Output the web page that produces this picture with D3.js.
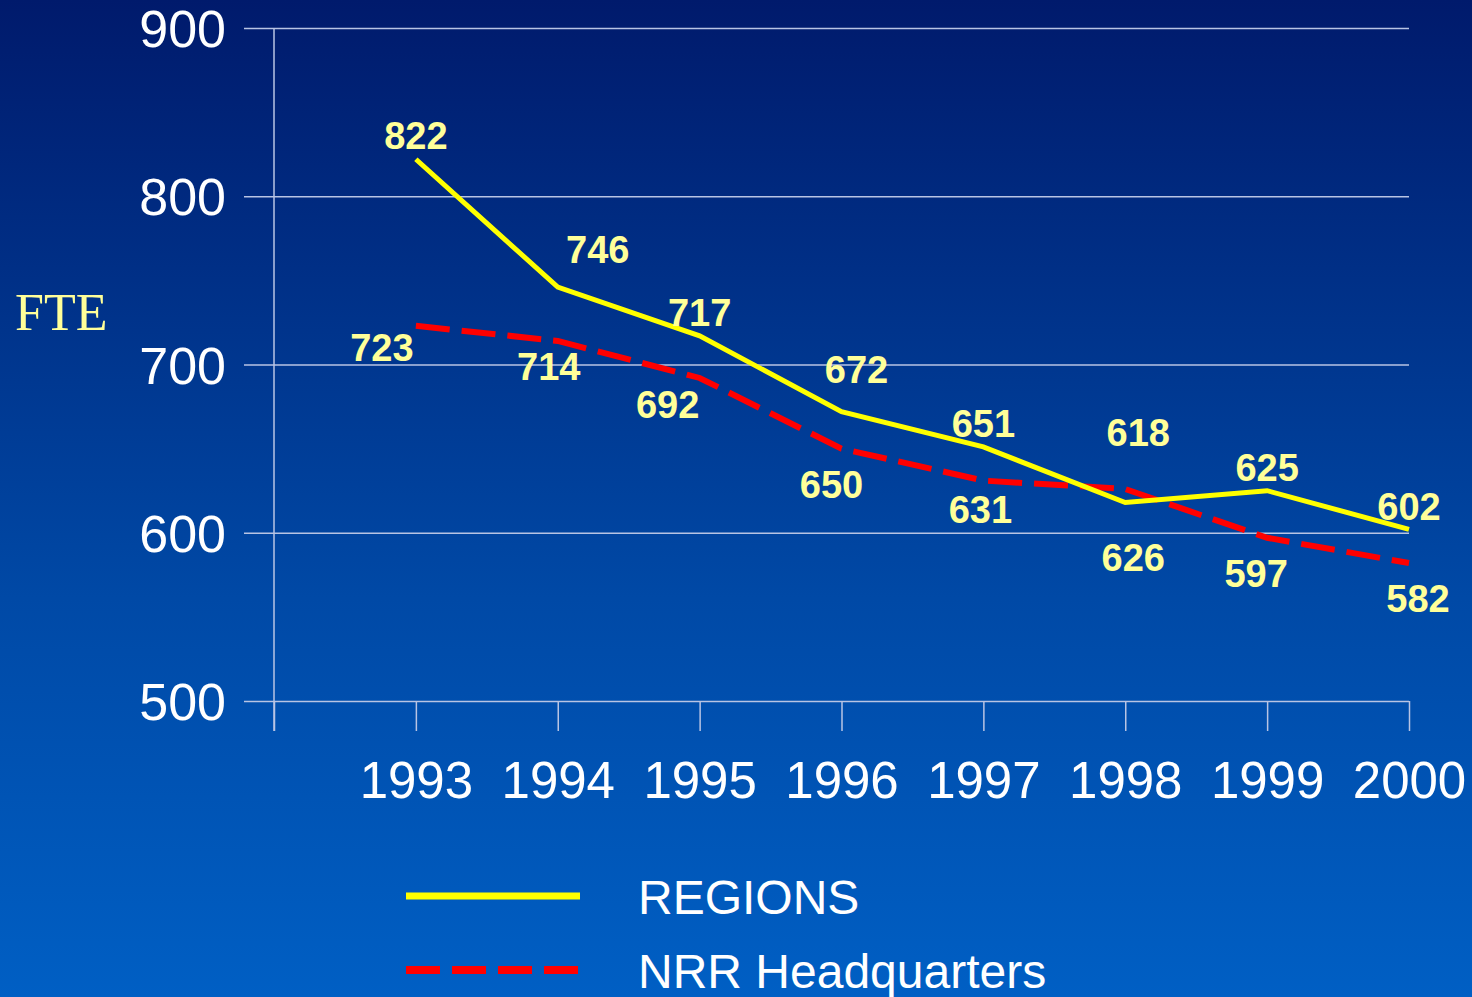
<!DOCTYPE html>
<html>
<head>
<meta charset="utf-8">
<script src="https://cdn.jsdelivr.net/npm/d3@7"></script>
<style>
  html, body { margin: 0; padding: 0; background: #003a98; }
  svg { display: block; }
</style>
</head>
<body>
<div id="chart"></div>
<script>
// data
const years = [1993, 1994, 1995, 1996, 1997, 1998, 1999, 2000]
const regions = [822, 746, 717, 672, 651, 618, 625, 602]
const headquarters = [723, 714, 692, 650, 631, 626, 597, 582]
const yTicks = [500, 600, 700, 800, 900]
const seriesNames = ['REGIONS', 'NRR Headquarters']

// where each value label sits relative to its point
const regionsLabelOffset = [[0, -24], [40, -38], [0, -24], [15, -42], [0, -24], [13, -70], [0, -23], [0, -23]]
const hqLabelOffset = [[-34, 22], [-9, 25], [-32, 26], [-10, 36], [-3, 29], [8, 68], [-11, 36], [9, 35]]

const W = 1472, H = 997

const svg = d3.select('#chart').append('svg')
    .attr('width', W)
    .attr('height', H)

const defs = svg.append('defs')
const grad = defs.append('linearGradient')
    .attr('id', 'bg')
    .attr('x1', 0).attr('y1', 0).attr('x2', 0).attr('y2', 1)
grad.append('stop').attr('offset', '0%').attr('stop-color', '#001a6c')
grad.append('stop').attr('offset', '60%').attr('stop-color', '#0049a6')
grad.append('stop').attr('offset', '100%').attr('stop-color', '#005fc4')

svg.append('rect')
    .attr('width', W).attr('height', H)
    .attr('fill', 'url(#bg)')

var x = d3.scaleLinear().domain([1992, 2000]).range([274, 1409])
var y = d3.scaleLinear().domain([500, 900]).range([701, 28])

const gridColor = '#b8c4e4'

// horizontal grid with the y tick labels
var yAxis = d3.axisLeft(y)
    .tickValues(yTicks)
    .tickSize(-(x.range()[1] - 244))
    .tickPadding(18)
svg.append('g')
    .attr('transform', 'translate(244,0)')
    .call(yAxis)
    .call(g => g.select('.domain').remove())
    .call(g => g.selectAll('line').attr('stroke', gridColor).attr('stroke-width', 1.5))
    .call(g => g.selectAll('text')
        .attr('fill', '#ffffff')
        .attr('font-family', 'Liberation Sans, Arial, sans-serif')
        .attr('font-size', 52)
        .attr('dy', '0.36em'))

// vertical axis line
svg.append('line')
    .attr('x1', x(1992)).attr('x2', x(1992))
    .attr('y1', y(900)).attr('y2', y(500) + 30)
    .attr('stroke', gridColor).attr('stroke-width', 1.5)

// x axis ticks hanging below the 500 line
var xAxis = d3.axisBottom(x)
    .tickValues([1992].concat(years))
    .tickSize(30)
    .tickPadding(30)
    .tickFormat(d => d === 1992 ? '' : d)
svg.append('g')
    .attr('transform', `translate(0,${y(500)})`)
    .call(xAxis)
    .call(g => g.select('.domain').remove())
    .call(g => g.selectAll('line').attr('stroke', gridColor).attr('stroke-width', 1.5))
    .call(g => g.selectAll('text')
        .attr('fill', '#ffffff')
        .attr('font-family', 'Liberation Sans, Arial, sans-serif')
        .attr('font-size', 51)
        .attr('dy', '0.72em'))

// FTE label
svg.append('text')
    .attr('x', 15).attr('y', 330)
    .attr('fill', '#ffff99')
    .attr('font-family', 'Liberation Serif, Times New Roman, serif')
    .attr('font-size', 52)
    .text('FTE')

var line = d3.line()
    .x((d, i) => x(years[i]))
    .y(d => y(d))

svg.append('path')
    .datum(headquarters)
    .attr('d', line)
    .attr('fill', 'none')
    .attr('stroke', '#ff0000')
    .attr('stroke-width', 6)
    .attr('stroke-dasharray', '34,12')

svg.append('path')
    .datum(regions)
    .attr('d', line)
    .attr('fill', 'none')
    .attr('stroke', '#ffff00')
    .attr('stroke-width', 5)
    .attr('stroke-linejoin', 'miter')

function labels(values, offsets) {
    svg.append('g').selectAll('text')
        .data(values)
        .join('text')
        .attr('x', (d, i) => x(years[i]) + offsets[i][0])
        .attr('y', (d, i) => y(d) + offsets[i][1])
        .attr('dy', '0.36em')
        .attr('text-anchor', 'middle')
        .attr('fill', '#ffff99')
        .attr('font-family', 'Liberation Sans, Arial, sans-serif')
        .attr('font-weight', 'bold')
        .attr('font-size', 38)
        .text(d => d)
}
labels(regions, regionsLabelOffset)
labels(headquarters, hqLabelOffset)

// legend
var legend = svg.append('g')
var rows = [
    { name: seriesNames[0], color: '#ffff00', dash: null, width: 7, y: 896 },
    { name: seriesNames[1], color: '#ff0000', dash: '34,12', width: 8, y: 970 }
]
rows.forEach(r => {
    legend.append('line')
        .attr('x1', 406).attr('x2', 580)
        .attr('y1', r.y).attr('y2', r.y)
        .attr('stroke', r.color)
        .attr('stroke-width', r.width)
        .attr('stroke-dasharray', r.dash)
    legend.append('text')
        .attr('x', 638).attr('y', r.y + 18)
        .attr('fill', '#ffffff')
        .attr('font-family', 'Liberation Sans, Arial, sans-serif')
        .attr('font-size', 48)
        .text(r.name)
})
</script>
</body>
</html>
